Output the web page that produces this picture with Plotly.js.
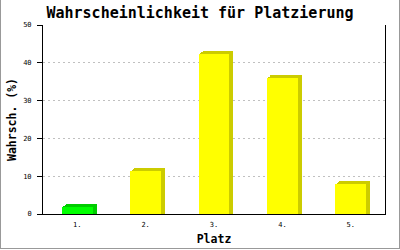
<!DOCTYPE html>
<html>
<head>
<meta charset="utf-8">
<script src="https://cdn.plot.ly/plotly-3.0.1.min.js"></script>
<style>
  html, body { margin: 0; padding: 0; background: #fff; }
  #wrap { position: absolute; left: 0; top: 0; width: 400px; height: 249px; box-sizing: border-box;
          border-left: 1px solid #999; border-right: 1px solid #999; border-bottom: 1px solid #999; overflow: hidden; }
  #chart { position: absolute; left: -1px; top: 0; width: 400px; height: 250px; }
</style>
</head>
<body>
<div id="wrap"><div id="chart"></div></div>
<script>
// Data
const categories = ["1.", "2.", "3.", "4.", "5."];
const probabilities = [1.9, 11.4, 42.3, 36.1, 7.9];
const frontColors = ["#00ff00", "#ffff00", "#ffff00", "#ffff00", "#ffff00"];
const sideColors = ["#00cc00", "#cccc00", "#cccc00", "#cccc00", "#cccc00"];
const yTicks = [0, 10, 20, 30, 40, 50];

// 3D look: depth steps (category units right, value units up)
const barWidth = 0.45;
const depthSteps = [[0.058, 0.8], [0.04, 0.55], [0.02, 0.27]];

const traces = [];
depthSteps.forEach(([dx, dy]) => {
  traces.push({
    type: "bar",
    x: categories,
    y: probabilities.map(v => v + dy),
    base: 0,
    width: barWidth,
    offset: -barWidth / 2 + dx,
    marker: { color: sideColors, line: { width: 0 } },
    hoverinfo: "skip",
    showlegend: false
  });
});
traces.push({
  type: "bar",
  x: categories,
  y: probabilities,
  width: barWidth,
  offset: -barWidth / 2,
  marker: { color: frontColors, line: { width: 0 } },
  showlegend: false
});

const mono = "DejaVu Sans Mono, Liberation Mono, monospace";
const layout = {
  width: 400,
  height: 250,
  margin: { l: 43, r: 15, t: 25, b: 36 },
  paper_bgcolor: "rgba(0,0,0,0)",
  plot_bgcolor: "#ffffff",
  barmode: "overlay",
  bargap: 0,
  title: {
    text: "Wahrscheinlichkeit für Platzierung",
    font: { family: mono, size: 15, color: "#000", weight: "bold" },
    xref: "container", x: 0.5, xanchor: "center",
    yref: "container", y: 0.95, yanchor: "middle"
  },
  xaxis: {
    type: "category",
    range: [-0.5, 4.5],
    showline: true, linecolor: "#000", linewidth: 1,
    ticks: "", showgrid: false, zeroline: false,
    ticklabelstandoff: 4,
    tickfont: { family: mono, size: 7, color: "#000" },
    title: { text: "Platz", font: { family: mono, size: 11.5, color: "#000", weight: "bold" }, standoff: 6 },
    fixedrange: true
  },
  yaxis: {
    range: [0, 50],
    tickvals: yTicks,
    ticktext: yTicks.map(String),
    showline: true, linecolor: "#000", linewidth: 1, mirror: true,
    ticks: "outside", ticklen: 5, tickcolor: "#000", tickwidth: 1,
    ticklabelstandoff: 4,
    showgrid: true, gridcolor: "#c0c0c0", gridwidth: 1, griddash: "2px,3px",
    zeroline: false,
    tickfont: { family: mono, size: 7, color: "#000" },
    title: { text: "Wahrsch. (%)", font: { family: mono, size: 11.5, color: "#000", weight: "bold" }, standoff: 4 },
    fixedrange: true
  }
};

Plotly.newPlot("chart", traces, layout, { staticPlot: true, displayModeBar: false });
</script>
</body>
</html>
